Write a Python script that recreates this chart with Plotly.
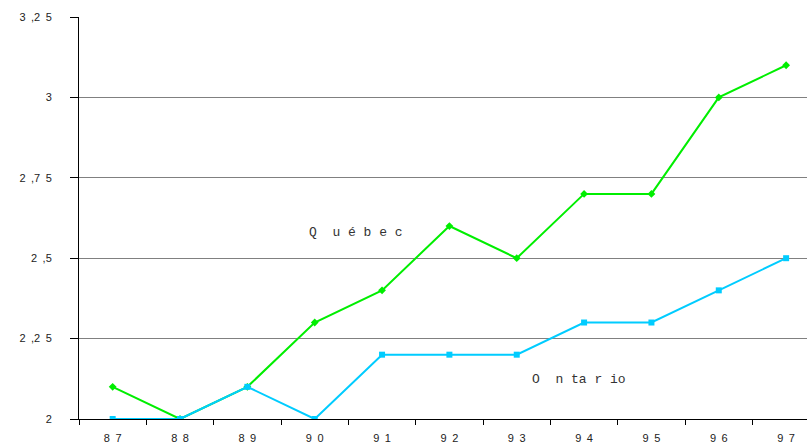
import plotly.graph_objects as go

years = ["87", "88", "89", "90", "91", "92", "93", "94", "95", "96", "97"]
year_labels = ["8\u20027", "8\u20028", "8\u20029", "9\u20020", "9\u20021", "9\u20022",
               "9\u20023", "9\u20024", "9\u20025", "9\u20026", "9\u20027"]
quebec = [2.1, 2.0, 2.1, 2.3, 2.4, 2.6, 2.5, 2.7, 2.7, 3.0, 3.1]
ontario = [2.0, 2.0, 2.1, 2.0, 2.2, 2.2, 2.2, 2.3, 2.3, 2.4, 2.5]
y_ticks = [2, 2.25, 2.5, 2.75, 3, 3.25]
y_tick_labels = ["2", "2\u2002,2\u20025", "2\u2002,5", "2\u2002,7\u20025", "3", "3\u2002,2\u20025"]

fig = go.Figure()
fig.add_trace(go.Scatter(
    x=years, y=quebec, mode="lines+markers", name="Québec",
    line=dict(color="#00ee00", width=2),
    marker=dict(symbol="diamond", size=6, color="#00ee00"),
))
fig.add_trace(go.Scatter(
    x=years, y=ontario, mode="lines+markers", name="Ontario",
    line=dict(color="#00ccff", width=2),
    marker=dict(symbol="square", size=6, color="#00ccff"),
))

fig.add_annotation(x=3.62, y=2.58, text="Q\u00a0\u00a0u\u00a0é\u00a0b\u00a0e\u00a0c", showarrow=False,
                   font=dict(family="Liberation Mono", size=13, color="#333333"))
fig.add_annotation(x=6.93, y=2.124, text="O\u00a0\u00a0n\u00a0ta\u00a0r\u00a0io", showarrow=False,
                   font=dict(family="Liberation Mono", size=13, color="#333333"))

fig.update_layout(
    width=807, height=444,
    margin=dict(l=79, r=0, t=17, b=25),
    plot_bgcolor="white", paper_bgcolor="white",
    showlegend=False,
    font=dict(family="Liberation Sans", size=11, color="#222222"),
)
fig.update_xaxes(
    type="category", categoryorder="array", categoryarray=years,
    tickvals=years, ticktext=year_labels,
    range=[-0.5, 10.31],
    tickson="boundaries", ticks="outside", ticklen=5, tickcolor="black",
    showline=True, linecolor="black", linewidth=1,
    showgrid=False, zeroline=False, automargin=False,
    ticklabelstandoff=9,
)
fig.update_yaxes(
    range=[2, 3.25], tickvals=y_ticks, ticktext=y_tick_labels,
    ticks="outside", ticklen=8, tickcolor="black",
    showline=True, linecolor="black", linewidth=1,
    showgrid=True, gridcolor="#808080", gridwidth=1,
    zeroline=False, automargin=False, ticklabelstandoff=16,
)

fig.write_html("out.html", config={"displayModeBar": False},
               post_script="document.body.style.margin='0px';document.body.style.overflow='hidden';")
